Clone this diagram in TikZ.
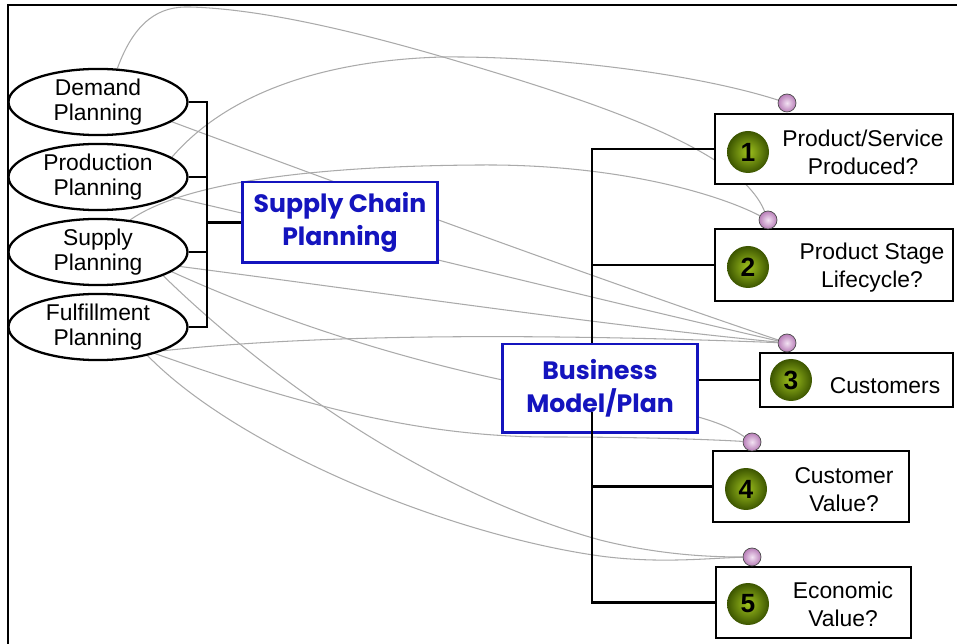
\documentclass[tikz,border=0pt]{standalone}
\usepackage{fontspec}
\setmainfont{Liberation Sans}
\newfontfamily\gothic{Poppins}
\usetikzlibrary{shapes}
\pgfdeclarelayer{bg}
\pgfsetlayers{bg,main}
\definecolor{planblue}{RGB}{20,20,190}
\definecolor{linkgray}{RGB}{170,170,170}
\definecolor{ballgreen}{RGB}{160,195,30}
\definecolor{balldark}{RGB}{60,85,0}
\definecolor{pinkdot}{RGB}{205,140,205}
\tikzstyle{planell}=[ellipse,draw=black,line width=1.3pt,fill=white,minimum width=3.58cm,minimum height=1.3cm,inner sep=0pt,align=center,font=\fontsize{13}{14.5}\selectfont]
\tikzstyle{headbox}=[rectangle,draw=planblue,line width=1.7pt,fill=white,minimum width=3.92cm,text=planblue,align=center,font=\gothic\bfseries\fontsize{14.3}{18.7}\selectfont]
\tikzstyle{qbox}=[rectangle,draw=black,line width=1.2pt,fill=white]
\tikzstyle{qtext}=[align=center,font=\fontsize{13}{16}\selectfont]
\tikzstyle{numball}=[circle,minimum size=0.84cm,inner sep=0pt,inner color=ballgreen,outer color=balldark,font=\bfseries\fontsize{15}{15}\selectfont]
\tikzstyle{dotball}=[circle,minimum size=0.36cm,inner sep=0pt,draw=black!70,line width=0.4pt,inner color=pinkdot!25,outer color=pinkdot!90!black]
\tikzstyle{linkline}=[linkgray,line width=0.6pt]
\tikzstyle{conn}=[line width=1.2pt]

\begin{document}
\begin{tikzpicture}[x=0.02cm,y=-0.02cm]
\useasboundingbox (0,0) rectangle (957,644);
\draw[line width=1.4pt] (8,644) -- (8,5) -- (957,5);
% planning side
\node[planell] (dem) at (98,102) {Demand\\Planning};
\node[planell] (prod) at (98,177) {Production\\Planning};
\node[planell] (sup) at (98,252) {Supply\\Planning};
\node[planell] (ful) at (98,327) {Fulfillment\\Planning};
\node[headbox,minimum height=1.62cm] (scp) at (340,222.5) {Supply Chain\\Planning};
\node[headbox,minimum height=1.78cm] (bmp) at (600,388.5) {Business\\Model/Plan};
% questions
\node[qbox,minimum width=4.76cm,minimum height=1.4cm] (q1) at (834,149) {};
\node[qbox,minimum width=4.76cm,minimum height=1.44cm] (q2) at (834,265) {};
\node[qbox,minimum width=3.86cm,minimum height=1.08cm] (q3) at (856.5,380) {};
\node[qbox,minimum width=3.92cm,minimum height=1.42cm] (q4) at (811,486.5) {};
\node[qbox,minimum width=3.9cm,minimum height=1.42cm] (q5) at (813.5,602.5) {};
\node[qtext] (t1) at (863,152) {Product/Service\\Produced?};
\node[qtext] (t2) at (872,268) {Product Stage\\Lifecycle?};
\node[qtext] (t3) at (885,386) {Customers};
\node[qtext] (t4) at (844,490) {Customer\\Value?};
\node[qtext] (t5) at (843,604) {Economic\\Value?};
\node[numball] (n1) at (748,152) {1};
\node[numball] (n2) at (748,267) {2};
\node[numball] (n3) at (791,380) {3};
\node[numball] (n4) at (746,489) {4};
\node[numball] (n5) at (748,604) {5};
\node[dotball] (d1) at (787,103) {};
\node[dotball] (d2) at (768,220) {};
\node[dotball] (d3) at (787,343) {};
\node[dotball] (d4) at (752,442) {};
\node[dotball] (d5) at (752,557) {};
% tree lines
\coordinate (lb) at (207,222.5);
\draw[conn] (dem.east) -- (dem.east -| lb) -- (ful.east -| lb) -- (ful.east);
\draw[conn] (prod.east) -- (prod.east -| lb);\draw[conn] (sup.east) -- (sup.east -| lb);
\draw[conn] (lb) -- (scp.west);
\coordinate (rb) at (592,412);
\draw[conn] (bmp.north -| rb) -- (q1.west -| rb) -- (q1.west);
\draw[conn] (rb) -- (q5.west -| rb) -- (q5.west);
\draw[conn] (q2.west -| rb) -- (q2.west);\draw[conn] (q4.west -| rb) -- (q4.west);
\draw[conn] (q3.west -| bmp.east) -- (q3.west);
% cross links
\begin{pgfonlayer}{bg}
\draw[linkline] (dem.60) .. controls (135,20) and (160,6) .. (190,7) .. controls (260,9) and (350,30) .. (443,57) .. controls (600,103) and (740,150) .. (d2);
\draw[linkline] (prod.15) .. controls (230,90) and (330,60) .. (443,57) .. controls (560,56) and (700,75) .. (d1);
\draw[linkline] (dem.-15) .. controls (350,188) and (600,280) .. (d3);
\draw[linkline] (prod.-15) .. controls (380,245) and (600,300) .. (d3);
\draw[linkline] (sup.45) .. controls (180,185) and (300,166) .. (480,165) .. controls (620,164) and (720,195) .. (d2);
\draw[linkline] (sup.-10) .. controls (400,295) and (600,325) .. (d3);
\draw[linkline] (sup.-15) .. controls (300,330) and (450,375) .. (600,398) .. controls (680,410) and (720,420) .. (d4);
\draw[linkline] (sup.-20) .. controls (260,370) and (420,490) .. (600,540) .. controls (660,555) and (710,557) .. (d5);
\draw[linkline] (ful.-20) .. controls (300,336) and (500,332) .. (d3);
\draw[linkline] (ful.-25) .. controls (300,405) and (420,437) .. (550,437) .. controls (650,437) and (720,440) .. (d4);
\draw[linkline] (ful.-30) .. controls (240,450) and (450,535) .. (600,556) .. controls (660,564) and (710,558) .. (d5);
\end{pgfonlayer}
\end{tikzpicture}
\end{document}
